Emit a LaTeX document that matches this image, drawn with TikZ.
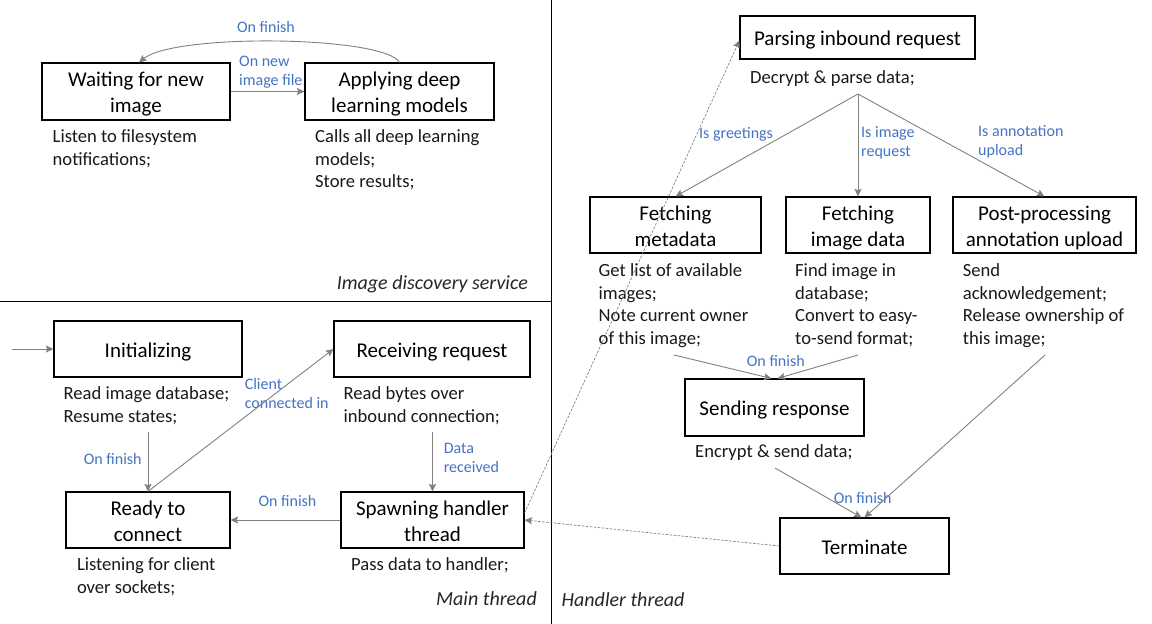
\documentclass[tikz,border=0pt]{standalone}
\usepackage{fontspec}
\setmainfont{Carlito}
\usetikzlibrary{arrows.meta,calc}
\definecolor{lblue}{HTML}{4472C4}
\definecolor{lgray}{HTML}{808080}
\newcommand\bxtop{\rule{0pt}{21pt}}
\newcommand\bxbot{\rule[-5pt]{0pt}{5pt}}
\begin{document}
\begin{tikzpicture}[x=1pt,y=-1pt,
 box/.style={draw=black,line width=1.1pt,inner sep=0pt,align=center,font=\fontsize{21}{26}\selectfont,text=black},
 desc/.style={anchor=north west,inner sep=0pt,align=left,font=\fontsize{18.6}{22.5}\selectfont,text=black!90},
 lbl/.style={inner sep=0pt,align=left,font=\fontsize{16}{19}\selectfont,text=lblue},
 arr/.style={draw=lgray,line width=0.9pt,-{Stealth[length=7.5pt,width=7pt,inset=1.2pt]}},
 darr/.style={arr,dash pattern=on 2.5pt off 1.5pt,line width=0.7pt},
 sect/.style={inner sep=0pt,font=\fontsize{20}{24}\selectfont\itshape,text=black!85},
]
\useasboundingbox (0,0) rectangle (1152,624);
% dividers
\draw[line width=1pt] (0,301) -- (551,301);
\draw[line width=1pt] (551,0) -- (551,624);
% boxes
\node[box,minimum width=188pt,minimum height=57pt] (wait) at (136,91.5) {\bxtop Waiting for new\\image\bxbot};
\node[box,minimum width=189pt,minimum height=57pt] (apply) at (399.5,91.5) {\bxtop Applying deep\\learning models\bxbot};
\node[box,minimum width=188pt,minimum height=56pt] (init) at (148,349) {\bxtop Initializing\bxbot};
\node[box,minimum width=196pt,minimum height=56pt] (recv) at (432,349) {\bxtop Receiving request\bxbot};
\node[box,minimum width=164pt,minimum height=56pt] (ready) at (148,520) {\bxtop Ready to\\connect\bxbot};
\node[box,minimum width=183pt,minimum height=56pt] (spawn) at (432.5,520) {\bxtop Spawning handler\\thread\bxbot};
\node[box,minimum width=235pt,minimum height=43pt] (parse) at (857.5,37.5) {\bxtop Parsing inbound request\bxbot};
\node[box,minimum width=171pt,minimum height=56pt] (meta) at (675.5,225) {\bxtop Fetching\\metadata\bxbot};
\node[box,minimum width=144pt,minimum height=56pt] (imgd) at (858,225) {\bxtop Fetching\\image data\bxbot};
\node[box,minimum width=183pt,minimum height=56pt] (post) at (1044.5,225) {\bxtop Post-processing\\annotation upload\bxbot};
\node[box,minimum width=179pt,minimum height=57pt] (send) at (774.5,407.5) {\bxtop Sending response\bxbot};
\node[box,minimum width=169pt,minimum height=56pt] (term) at (864.5,546) {\bxtop Terminate\bxbot};
% descriptions
\node[desc] (waitd) at (52.5,129.6) {Listen to filesystem\\notifications;};
\node[desc] (applyd) at (315,129.6) {Calls all deep learning\\models;\\Store results;};
\node[desc] (initd) at (63.5,386.6) {Read image database;\\Resume states;};
\node[desc] (recvd) at (343.5,386.6) {Read bytes over\\inbound connection;};
\node[desc] (readyd) at (76.8,557.6) {Listening for client\\over sockets;};
\node[desc] (spawnd) at (351,557.6) {Pass data to handler;};
\node[desc] (parsed) at (750,70.6) {Decrypt \& parse data;};
\node[desc] (metad) at (598.5,263.6) {Get list of available\\images;\\Note current owner\\of this image;};
\node[desc] (imgdd) at (795,263.6) {Find image in\\database;\\Convert to easy-\\to-send format;};
\node[desc] (postd) at (962.7,263.6) {Send\\acknowledgement;\\Release ownership of\\this image;};
\node[desc] (sendd) at (695,444.6) {Encrypt \& send data;};
% section labels
\node[sect,anchor=east] (s1) at (528,284) {Image discovery service};
\node[sect,anchor=east] (s2) at (537,598.5) {Main thread};
\node[sect,anchor=west] (s3) at (561.5,600) {Handler thread};
% edge labels
\node[lbl,anchor=north west,font=\fontsize{16}{19.5}\selectfont] (l1) at (239,55.8) {On new\\image file};
\node[lbl] (l2) at (266,27) {On finish};
\node[lbl,anchor=west] (l3) at (83.6,459) {On finish};
\node[lbl,anchor=north west] (l4) at (244.6,378.3) {Client\\connected in};
\node[lbl,anchor=north west] (l5) at (443.6,443.3) {Data\\received};
\node[lbl] (l6) at (287.5,501) {On finish};
\node[lbl,anchor=west] (l7) at (699,134.5) {Is greetings};
\node[lbl,anchor=north west] (l8) at (861,126.5) {Is image\\request};
\node[lbl,anchor=north west] (l9) at (978,125.5) {Is annotation\\upload};
\node[lbl] (l10) at (775.8,361) {On finish};
\node[lbl] (l11) at (862.7,498) {On finish};
% free ends
\coordinate (entry) at (12,349);
\coordinate (initout) at (148,432);
\coordinate (recvout) at (432.5,432);
\coordinate (fan) at (858,94);
\coordinate (metaout) at (674,355);
\coordinate (imgdout) at (858,355);
\coordinate (sendout) at (775,468);
\coordinate (postout) at (1045,355);
% connectors
\draw[arr] (wait) -- (apply);
\draw[arr] (apply.north) .. controls (385,36) and (175,33) .. ([xshift=3pt]wait.north);
\draw[arr] (entry) -- (init);
\draw[arr] (initout) -- (ready.north);
\draw[arr] (ready.north) -- (recv.west);
\draw[arr] (recvout) -- (spawn.north);
\draw[arr] (spawn) -- (ready);
\draw[arr] (fan) -- (meta.north);
\draw[arr] (fan) -- (imgd.north);
\draw[arr] (fan) -- (post.north);
\draw[arr] (metaout) -- ([xshift=-3pt]send.north);
\draw[arr] (imgdout) -- ([xshift=3pt]send.north);
\draw[arr] (sendout) -- ([xshift=-3pt]term.north);
\draw[arr] (postout) -- (term.north);
\draw[darr] (term.west) -- (spawn.east);
\draw[darr] ([yshift=7pt]spawn.east) -- ([yshift=-3pt]parse.west);
\end{tikzpicture}
\end{document}
